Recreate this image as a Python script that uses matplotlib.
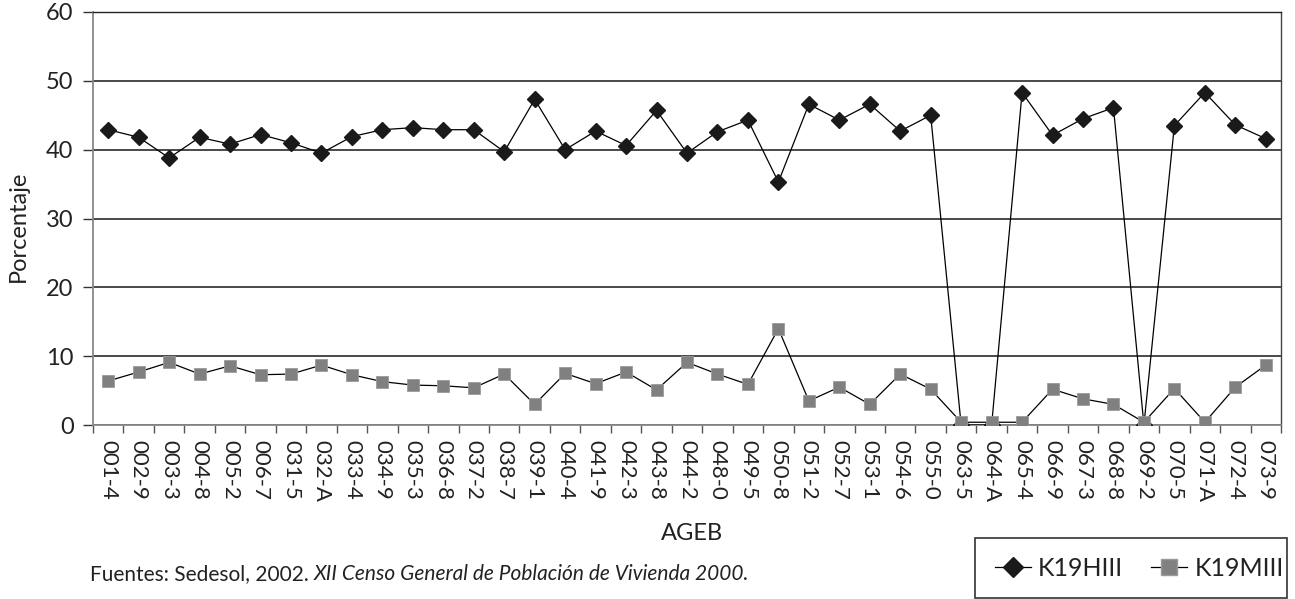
import numpy as np
import matplotlib.pyplot as plt
from matplotlib.lines import Line2D
from matplotlib.patches import Rectangle

plt.rcParams['font.family'] = ['Lato', 'DejaVu Sans']

ageb = ["001-4", "002-9", "003-3", "004-8", "005-2", "006-7", "031-5", "032-A",
        "033-4", "034-9", "035-3", "036-8", "037-2", "038-7", "039-1", "040-4",
        "041-9", "042-3", "043-8", "044-2", "048-0", "049-5", "050-8", "051-2",
        "052-7", "053-1", "054-6", "055-0", "063-5", "064-A", "065-4", "066-9",
        "067-3", "068-8", "069-2", "070-5", "071-A", "072-4", "073-9"]

k19hiii = [42.9, 41.8, 38.8, 41.8, 40.8, 42.2, 41.0, 39.5, 41.9, 42.9, 43.2, 42.9,
           42.9, 39.7, 47.3, 40.0, 42.7, 40.6, 45.7, 39.5, 42.6, 44.3, 35.3, 46.6,
           44.3, 46.6, 42.7, 45.0, 0.0, 0.0, 48.3, 42.1, 44.5, 46.1, 0.0, 43.5,
           48.3, 43.6, 41.6]

k19miii = [6.4, 7.7, 9.1, 7.4, 8.6, 7.3, 7.4, 8.7, 7.3, 6.3, 5.8, 5.7, 5.4, 7.4,
           3.0, 7.5, 6.0, 7.7, 5.1, 9.1, 7.4, 5.9, 14.0, 3.5, 5.5, 3.0, 7.4, 5.2,
           0.4, 0.4, 0.4, 5.2, 3.8, 3.0, 0.4, 5.3, 0.4, 5.5, 8.7]

W, H = 1295, 599
fig = plt.figure(figsize=(W / 100, H / 100), dpi=100)
ax = fig.add_axes([93 / W, 1 - 425 / H, (1281 - 93) / W, (425 - 12) / H])

x = np.arange(len(ageb))
ax.plot(x, k19hiii, color='black', lw=0.9, marker='D', ms=7.8,
        mfc='#1a1a1a', mec='#1a1a1a', zorder=3)
ax.plot(x, k19miii, color='black', lw=0.9, marker='s', ms=9,
        mfc='#808080', mec='#9a9a9a', mew=0.6, zorder=4)

ax.set_xlim(-0.5, len(ageb) - 0.5)
ax.set_ylim(0, 60)
ax.set_yticks(range(0, 61, 10))
ax.yaxis.grid(True, color='#2a2a2a', lw=1.2)
ax.set_axisbelow(True)

ax.set_xticks(x)
ax.set_xticklabels(ageb, rotation=-90, fontsize=16, color='#222222')
ax.set_xticks(np.arange(-0.5, len(ageb), 1), minor=True)
ax.tick_params(axis='x', which='major', length=0, pad=11)
ax.tick_params(axis='x', which='minor', length=6, color='#555555', width=1)
ax.tick_params(axis='y', length=7, width=1, color='#333333', labelsize=17,
               pad=7, labelcolor='#222222')

for side in ['left', 'bottom']:
    ax.spines[side].set_color('#888888')
    ax.spines[side].set_linewidth(1.3)
ax.spines['top'].set_color('#222222')
ax.spines['right'].set_color('#444444')
ax.spines['top'].set_linewidth(1.0)
ax.spines['right'].set_linewidth(1.0)

fig.text(18 / W, 1 - 226 / H, 'Porcentaje', fontsize=17, rotation=90,
         ha='center', va='center', color='#222222')
fig.text(692 / W, 1 - 533 / H, 'AGEB', fontsize=17, ha='center', va='center',
         color='#222222')

t1 = fig.text(90 / W, 1 - 580 / H, 'Fuentes: Sedesol, 2002. ', fontsize=15,
              ha='left', va='baseline', color='#222222')
fig.canvas.draw()
bb = t1.get_window_extent()
fig.text(bb.x1 / W, 1 - 580 / H, 'XII Censo General de Población de Vivienda 2000.',
         fontsize=15, style='italic', ha='left', va='baseline', color='#222222')

fig.patches.append(Rectangle((975 / W, 1 - 597.5 / H), (1287 - 975) / W, (597.5 - 538) / H,
                             transform=fig.transFigure, fill=False,
                             edgecolor='#333333', lw=1.2))
handles = [
    Line2D([], [], color='black', lw=0.9, marker='D', ms=10, mfc='#1a1a1a', mec='#1a1a1a'),
    Line2D([], [], color='black', lw=0.9, marker='s', ms=11, mfc='#808080', mec='#9a9a9a'),
]
fig.legend(handles, ['K19HIII', 'K19MIII'], ncol=2, frameon=False, fontsize=18,
           loc='center left', bbox_to_anchor=(982 / W, 1 - 568 / H), borderpad=0,
           handlelength=1.45, handletextpad=0.3, columnspacing=1.1,
           labelcolor='#222222')

fig.savefig('out.png', dpi=100)
